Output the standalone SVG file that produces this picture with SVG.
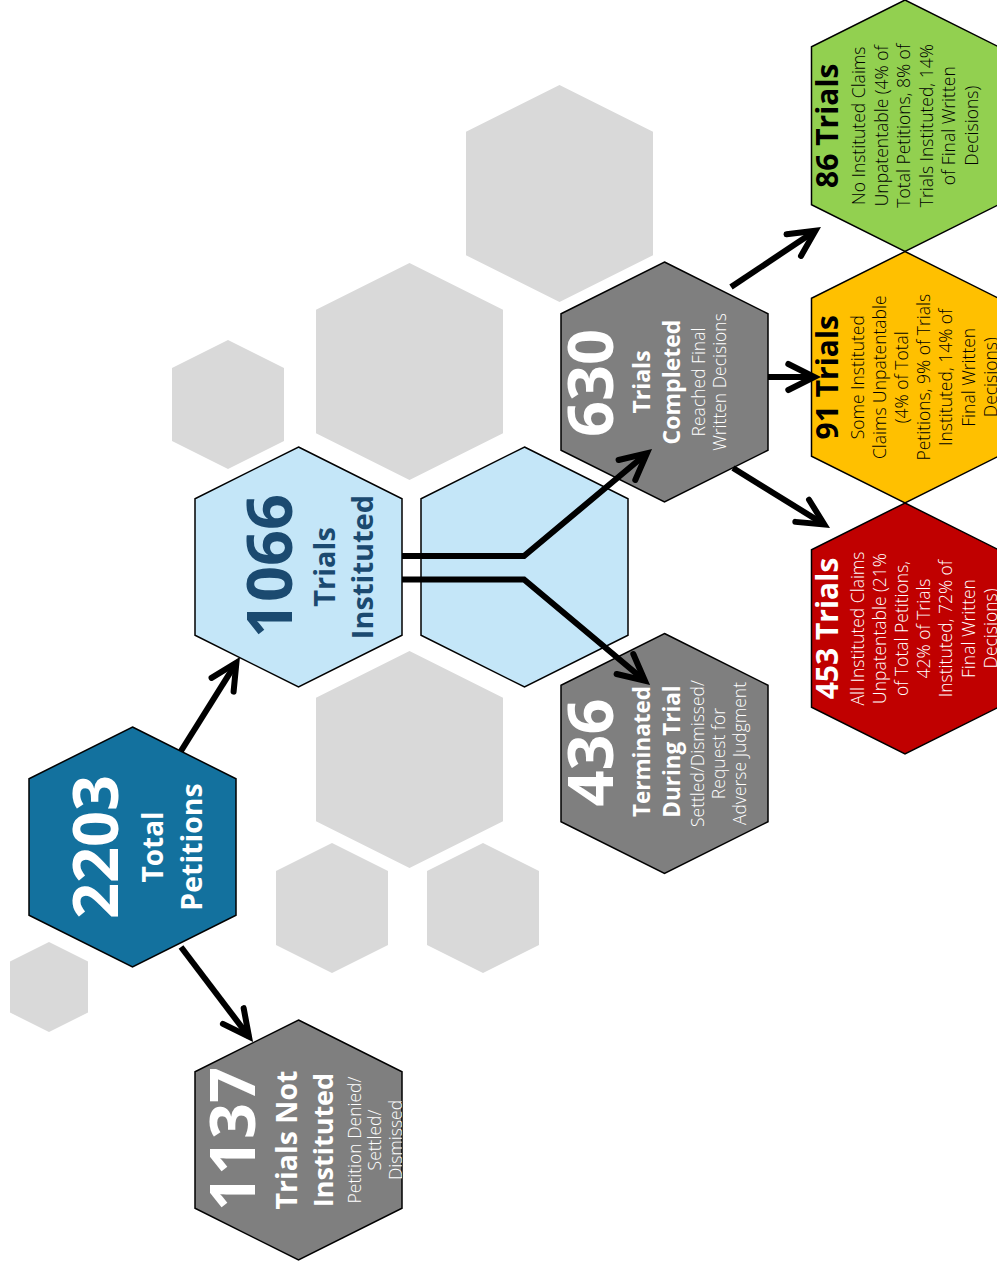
<svg xmlns="http://www.w3.org/2000/svg" width="997" height="1267" viewBox="0 0 997 1267">
<style>
.bg{fill:#D9D9D9}
.hx{stroke:#000;stroke-width:1.5}
.gray{fill:#7F7F7F}
.t{font-family:"Open Sans","Noto Sans","DejaVu Sans",sans-serif;text-anchor:middle}
.num{font-weight:700;font-size:63px}
.b{font-weight:700}
.l{font-weight:300;font-size:17.5px}
.w{fill:#FFFFFF}
.k{fill:#000000}
.conn{fill:none;stroke:#000;stroke-width:6;stroke-linejoin:miter}
</style>
<defs>
<marker id="arr" markerUnits="userSpaceOnUse" markerWidth="60" markerHeight="60" viewBox="-40 -30 60 60" refX="0" refY="0" orient="auto" overflow="visible">
<path d="M-26,-13 L0,0 L-26,13" fill="none" stroke="#000" stroke-width="6" stroke-linecap="round" stroke-linejoin="miter"/>
</marker>
<clipPath id="clip1137">
<polygon points="298.5,1020 402,1071.75 402,1208.25 298.5,1260 195,1208.25 195,1071.75"/>
</clipPath>
</defs>

<g id="background">
<polygon class="bg" points="559.5,85 653,131.75 653,255.25 559.5,302 466,255.25 466,131.75"/>
<polygon class="bg" points="409.5,263 503,309.75 503,433.25 409.5,480 316,433.25 316,309.75"/>
<polygon class="bg" points="228,340 284,368 284,441 228,469 172,441 172,368"/>
<polygon class="bg" points="409.5,651 503,697.75 503,821.25 409.5,868 316,821.25 316,697.75"/>
<polygon class="bg" points="332,843 388,871 388,945 332,973 276,945 276,871"/>
<polygon class="bg" points="483,843 539,871 539,945 483,973 427,945 427,871"/>
<polygon class="bg" points="49,942 88,961.5 88,1012.5 49,1032 10,1012.5 10,961.5"/>
</g>

<g id="node-2203">
<polygon class="hx" fill="#13719E" points="132.5,727 236,778.75 236,915.25 132.5,967 29,915.25 29,778.75"/>
<g class="t w" transform="translate(132.5 847) rotate(-90)">
<text class="num" x="0" y="-14.5">2203</text>
<text class="b" x="0" y="30.5" font-size="28">Total</text>
<text class="b" x="0" y="69" font-size="28.5">Petitions</text>
</g>
</g>

<g id="node-1137">
<polygon class="hx gray" points="298.5,1020 402,1071.75 402,1208.25 298.5,1260 195,1208.25 195,1071.75"/>
<g clip-path="url(#clip1137)">
<g class="t w" transform="translate(298.5 1140) rotate(-90)">
<text class="num" x="1" y="-43.5">1137</text>
<text class="b" x="0" y="-2" font-size="28.5">Trials Not</text>
<text class="b" x="0" y="34.5" font-size="27">Instituted</text>
<text class="l" x="0" y="62.5">Petition Denied/</text>
<text class="l" x="0" y="82.5">Settled/</text>
<text class="l" x="0" y="103">Dismissed</text>
</g>
</g>
</g>

<g id="node-1066">
<polygon class="hx" fill="#C4E6F8" points="298.5,447 402,498.75 402,635.25 298.5,687 195,635.25 195,498.75"/>
<g class="t" fill="#1B4A70" transform="translate(298.5 567) rotate(-90)">
<text class="num" x="1" y="-6.8">1066</text>
<text class="b" x="0" y="36.5" font-size="29">Trials</text>
<text class="b" x="0" y="74.8" font-size="29">Instituted</text>
</g>
</g>

<g id="node-split">
<polygon class="hx" fill="#C4E6F8" points="524.5,447 628,498.75 628,635.25 524.5,687 421,635.25 421,498.75"/>
</g>

<g id="node-630">
<polygon class="hx gray" points="664.5,262 768,313.75 768,450.25 664.5,502 561,450.25 561,313.75"/>
<g class="t w" transform="translate(664.5 382) rotate(-90)">
<text class="num" x="-1" y="-51.2">630</text>
<text class="b" x="0" y="-14.5" font-size="23">Trials</text>
<text class="b" x="0" y="15.5" font-size="23">Completed</text>
<text class="l" x="0" y="40.5">Reached Final</text>
<text class="l" x="0" y="61">Written Decisions</text>
</g>
</g>

<g id="node-436">
<polygon class="hx gray" points="664.5,633.5 768,685.25 768,821.75 664.5,873.5 561,821.75 561,685.25"/>
<g class="t w" transform="translate(664.5 753.5) rotate(-90)">
<text class="num" x="1" y="-51.2">436</text>
<text class="b" x="2" y="-14.5" font-size="22.5">Terminated</text>
<text class="b" x="2" y="15.5" font-size="22.5">During Trial</text>
<text class="l" x="0" y="39">Settled/Dismissed/</text>
<text class="l" x="0" y="60">Request for</text>
<text class="l" x="0" y="81">Adverse Judgment</text>
</g>
</g>

<g id="node-86">
<polygon class="hx" fill="#92D050" points="905,0 998.5,46.75 998.5,204.75 905,251.5 811.5,204.75 811.5,46.75"/>
<g class="t k" transform="translate(905 125.75) rotate(-90)">
<text class="b" x="0" y="-66.7" font-size="30">86 Trials</text>
<text class="l" x="0" y="-40">No Instituted Claims</text>
<text class="l" x="0" y="-17.4">Unpatentable (4% of</text>
<text class="l" x="0" y="5.2">Total Petitions, 8% of</text>
<text class="l" x="0" y="27.8">Trials Instituted, 14%</text>
<text class="l" x="0" y="50.4">of Final Written</text>
<text class="l" x="0" y="73">Decisions)</text>
</g>
</g>

<g id="node-91">
<polygon class="hx" fill="#FFC000" points="905,251.5 998.5,298.25 998.5,456.25 905,503 811.5,456.25 811.5,298.25"/>
<g class="t k" transform="translate(905 377.25) rotate(-90)">
<text class="b" x="0" y="-66.7" font-size="30">91 Trials</text>
<text class="l" x="0" y="-41.5">Some Instituted</text>
<text class="l" x="0" y="-19.3">Claims Unpatentable</text>
<text class="l" x="0" y="2.9">(4% of Total</text>
<text class="l" x="0" y="25.1">Petitions, 9% of Trials</text>
<text class="l" x="0" y="47.3">Instituted, 14% of</text>
<text class="l" x="0" y="69.5">Final Written</text>
<text class="l" x="0" y="91.7">Decisions)</text>
</g>
</g>

<g id="node-453">
<polygon class="hx" fill="#C00000" points="905,503 998.5,549.75 998.5,707.25 905,754 811.5,707.25 811.5,549.75"/>
<g class="t w" transform="translate(905 628.5) rotate(-90)">
<text class="b" x="0" y="-67" font-size="30">453 Trials</text>
<text class="l" x="0" y="-41.5">All Instituted Claims</text>
<text class="l" x="0" y="-19.3">Unpatentable (21%</text>
<text class="l" x="0" y="2.9">of Total Petitions,</text>
<text class="l" x="0" y="25.1">42% of Trials</text>
<text class="l" x="0" y="47.3">Instituted, 72% of</text>
<text class="l" x="0" y="69.5">Final Written</text>
<text class="l" x="0" y="91.7">Decisions)</text>
</g>
</g>

<g id="connectors">
<path class="conn" marker-end="url(#arr)" d="M181,751 L236.4,662.7"/>
<path class="conn" marker-end="url(#arr)" d="M181,947 L249,1036.7"/>
<path class="conn" marker-end="url(#arr)" d="M402,556 L524,556 L646.9,453.3"/>
<path class="conn" marker-end="url(#arr)" d="M402,579.5 L524,579.5 L644.9,680.7"/>
<path class="conn" marker-end="url(#arr)" d="M731,287 L815.4,230.7"/>
<path class="conn" marker-end="url(#arr)" d="M768,377 L814.3,377"/>
<path class="conn" marker-end="url(#arr)" d="M733,468 L824.3,524.5"/>
</g>
</svg>
